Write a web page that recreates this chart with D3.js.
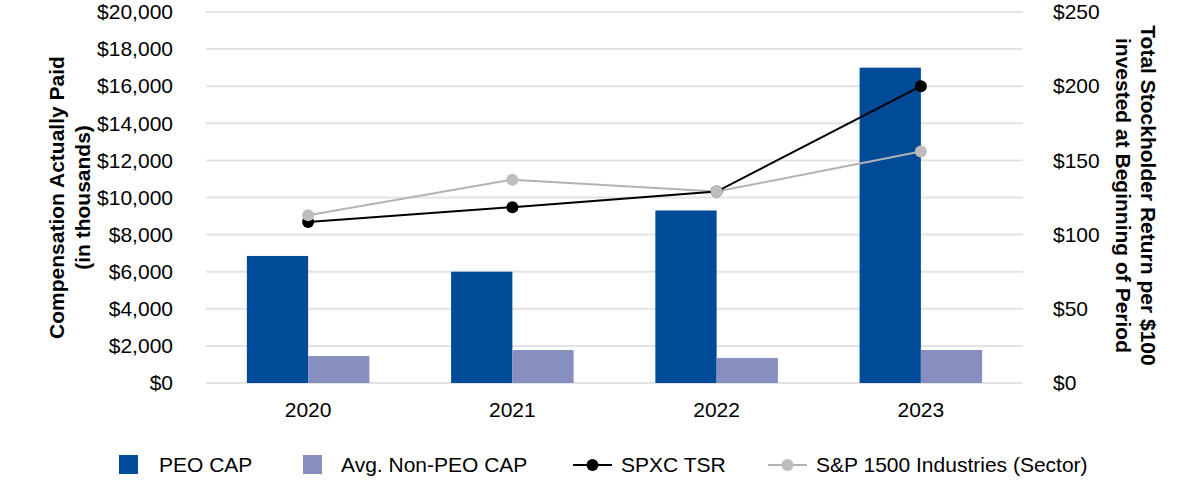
<!DOCTYPE html>
<html>
<head>
<meta charset="utf-8">
<script src="https://cdn.jsdelivr.net/npm/d3@7"></script>
<style>
  html, body { margin: 0; padding: 0; background: #fff; }
  svg { display: block; font-family: "Liberation Sans", Arial, sans-serif; }
</style>
</head>
<body>
<svg id="chart" width="1200" height="490"></svg>
<script>
const years = ["2020", "2021", "2022", "2023"];
const peoCap = [6850, 6000, 9300, 17000];
const nonPeoCap = [1450, 1780, 1350, 1780];
const spxcTsr = [108.5, 118.5, 129, 200];
const spIndustries = [113, 137, 129, 156];
const leftTicks = [0, 2000, 4000, 6000, 8000, 10000, 12000, 14000, 16000, 18000, 20000];
const rightTicks = [0, 50, 100, 150, 200, 250];

const colors = { peo: "#004b98", nonPeo: "#868fbf", tsr: "#000000", sp: "#b3b3b3", spDot: "#bdbdbd", grid: "#e3e3e3" };

const svg = d3.select("#chart");
const plot = { left: 206, right: 1023, top: 12, bottom: 383 };

const x = d3.scaleBand().domain(years).range([plot.left, plot.right]).paddingInner(0.4).paddingOuter(0.2);
const xSub = d3.scaleBand().domain(["peo", "nonPeo"]).range([0, x.bandwidth()]);
const yL = d3.scaleLinear().domain([0, 20000]).range([plot.bottom, plot.top]);
const yR = d3.scaleLinear().domain([0, 250]).range([plot.bottom, plot.top]);

// gridlines
svg.append("g").selectAll("line").data(leftTicks).join("line")
  .attr("x1", plot.left).attr("x2", plot.right)
  .attr("y1", d => yL(d)).attr("y2", d => yL(d))
  .attr("stroke", colors.grid).attr("stroke-width", 2);

// left axis
const fmtL = d => "$" + d3.format(",")(d);
const leftAxis = svg.append("g").attr("transform", `translate(${plot.left},0)`)
  .call(d3.axisLeft(yL).tickValues(leftTicks).tickFormat(fmtL).tickSize(0).tickPadding(33));
leftAxis.select(".domain").remove();
leftAxis.selectAll("text").attr("font-size", 21).attr("fill", "#000").attr("font-family", "Liberation Sans, Arial, sans-serif");

// right axis
const rightAxis = svg.append("g").attr("transform", `translate(${plot.right},0)`)
  .call(d3.axisRight(yR).tickValues(rightTicks).tickFormat(d => "$" + d).tickSize(0).tickPadding(30));
rightAxis.select(".domain").remove();
rightAxis.selectAll("text").attr("font-size", 21).attr("fill", "#000").attr("font-family", "Liberation Sans, Arial, sans-serif");

// x axis
const xAxis = svg.append("g").attr("transform", `translate(0,${plot.bottom})`)
  .call(d3.axisBottom(x).tickSize(0).tickPadding(19));
xAxis.select(".domain").remove();
xAxis.selectAll("text").attr("font-size", 21).attr("fill", "#000").attr("font-family", "Liberation Sans, Arial, sans-serif");

// bars
const groups = svg.append("g").selectAll("g").data(years).join("g")
  .attr("transform", d => `translate(${x(d)},0)`);
groups.append("rect")
  .attr("x", xSub("peo")).attr("width", xSub.bandwidth())
  .attr("y", (d, i) => yL(peoCap[i])).attr("height", (d, i) => yL(0) - yL(peoCap[i]))
  .attr("fill", colors.peo);
groups.append("rect")
  .attr("x", xSub("nonPeo")).attr("width", xSub.bandwidth())
  .attr("y", (d, i) => yL(nonPeoCap[i])).attr("height", (d, i) => yL(0) - yL(nonPeoCap[i]))
  .attr("fill", colors.nonPeo);

// lines
const cx = d => x(d) + x.bandwidth() / 2;
const line = d3.line().x(d => cx(d.year)).y(d => yR(d.v));
const spData = years.map((y, i) => ({ year: y, v: spIndustries[i] }));
const tsrData = years.map((y, i) => ({ year: y, v: spxcTsr[i] }));

svg.append("path").datum(spData).attr("d", line).attr("fill", "none").attr("stroke", colors.sp).attr("stroke-width", 2);
svg.append("path").datum(tsrData).attr("d", line).attr("fill", "none").attr("stroke", colors.tsr).attr("stroke-width", 2);
svg.append("g").selectAll("circle").data(tsrData).join("circle")
  .attr("cx", d => cx(d.year)).attr("cy", d => yR(d.v)).attr("r", 6).attr("fill", colors.tsr);
svg.append("g").selectAll("circle").data(spData).join("circle")
  .attr("cx", d => cx(d.year)).attr("cy", d => yR(d.v)).attr("r", 6).attr("fill", colors.spDot);

// axis titles
const midY = (plot.top + plot.bottom) / 2;
const lt = svg.append("text").attr("transform", `translate(64,${midY}) rotate(-90)`)
  .attr("text-anchor", "middle").attr("font-size", 21).attr("font-weight", "bold");
lt.append("tspan").attr("x", 0).attr("y", 0).text("Compensation Actually Paid");
lt.append("tspan").attr("x", 0).attr("y", 26).text("(in thousands)");

const rt = svg.append("text").attr("transform", `translate(1141,${midY - 2}) rotate(90)`)
  .attr("text-anchor", "middle").attr("font-size", 21).attr("font-weight", "bold");
rt.append("tspan").attr("x", 0).attr("y", 0).text("Total Stockholder Return per $100");
rt.append("tspan").attr("x", 0).attr("y", 25).text("invested at Beginning of Period");

// legend
const legY = 465;
const leg = svg.append("g").attr("font-size", 21);
const swatches = [
  { label: "PEO CAP", color: colors.peo, x: 119, tx: 159 },
  { label: "Avg. Non-PEO CAP", color: colors.nonPeo, x: 303, tx: 341 }
];
swatches.forEach(s => {
  leg.append("rect").attr("x", s.x).attr("y", legY - 10).attr("width", 19).attr("height", 19).attr("fill", s.color);
  leg.append("text").attr("x", s.tx).attr("y", legY).attr("dy", "0.35em").text(s.label);
});
const lineItems = [
  { label: "SPXC TSR", color: colors.tsr, dot: colors.tsr, x1: 573, x2: 612, tx: 621 },
  { label: "S&P 1500 Industries (Sector)", color: colors.sp, dot: colors.spDot, x1: 768, x2: 807, tx: 816 }
];
lineItems.forEach(s => {
  leg.append("line").attr("x1", s.x1).attr("x2", s.x2).attr("y1", legY).attr("y2", legY).attr("stroke", s.color).attr("stroke-width", 2);
  leg.append("circle").attr("cx", (s.x1 + s.x2) / 2).attr("cy", legY).attr("r", 6).attr("fill", s.dot);
  leg.append("text").attr("x", s.tx).attr("y", legY).attr("dy", "0.35em").text(s.label);
});
</script>
</body>
</html>
